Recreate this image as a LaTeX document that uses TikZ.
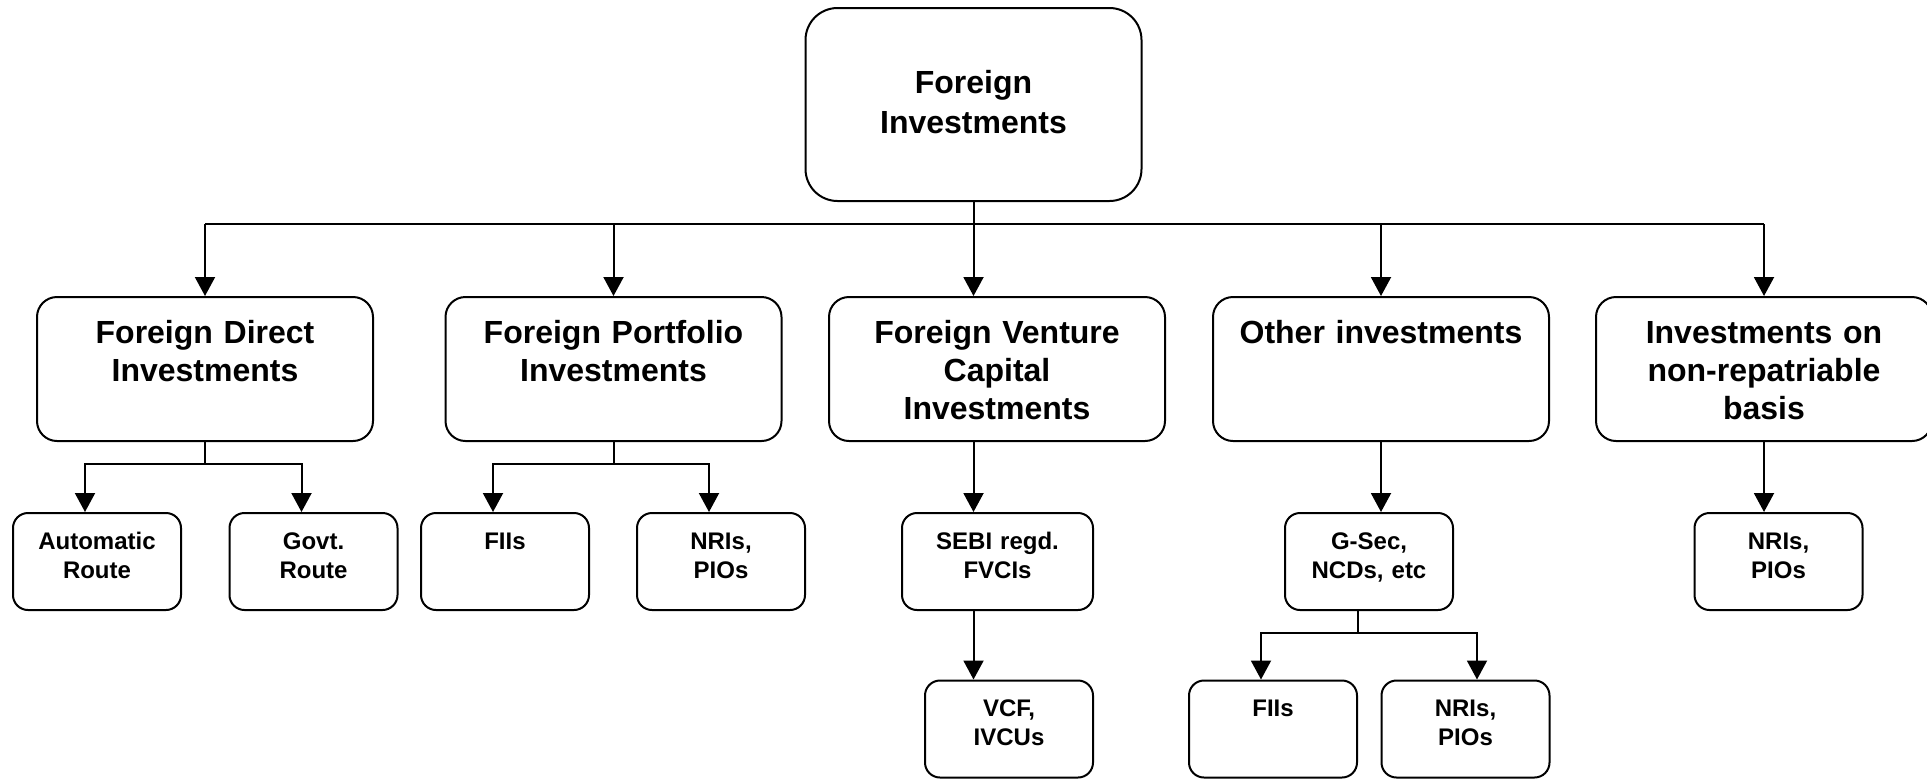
\documentclass[tikz,border=0pt]{standalone}
\usepackage{fontspec}
\setmainfont{Liberation Sans}
\usetikzlibrary{arrows.meta}

\begin{document}
\begin{tikzpicture}[x=0.5pt,y=-0.5pt,>={Triangle[width=10pt,length=9.5pt]},
    box/.style={draw,line width=1pt,align=center,inner sep=0pt},
    topbox/.style={box,rounded corners=16pt,text width=168pt,text height=42.5pt,
      text depth=54pt,font=\fontsize{16}{20}\selectfont\bfseries},
    bigbox/.style={box,rounded corners=10pt,text width=168pt,text height=23pt,
      text depth=49pt,font=\fontsize{16}{19}\selectfont\bfseries},
    smallbox/.style={box,rounded corners=7.5pt,text width=84pt,text height=18pt,
      text depth=30.5pt,font=\fontsize{12}{14.5}\selectfont\bfseries},
    link/.style={line width=1pt}]
    \useasboundingbox (0,0) rectangle (1927,778);

    \node[topbox] (fi) at (973.5,104.5) {Foreign\\Investments};

    \node[bigbox] (fdi) at (205,369) {Foreign Direct\\Investments};
    \node[bigbox] (fpi) at (613.5,369) {Foreign Portfolio\\Investments};
    \node[bigbox] (fvci) at (997,369) {Foreign Venture\\Capital\\Investments};
    \node[bigbox] (oth) at (1381,369) {Other investments};
    \node[bigbox] (nrb) at (1764,369) {Investments on\\non-repatriable\\basis};

    \node[smallbox] (auto) at (97,561.5) {Automatic\\Route};
    \node[smallbox] (govt) at (313.5,561.5) {Govt.\\Route};
    \node[smallbox] (fii1) at (505,561.5) {FIIs};
    \node[smallbox] (nri1) at (721,561.5) {NRIs,\\PIOs};
    \node[smallbox,text width=95.5pt] (sebi) at (997.5,561.5) {SEBI regd.\\FVCIs};
    \node[smallbox] (gsec) at (1369,561.5) {G-Sec,\\NCDs, etc};
    \node[smallbox] (nri3) at (1778.5,561.5) {NRIs,\\PIOs};
    \node[smallbox] (vcf) at (1009,729) {VCF,\\IVCUs};
    \node[smallbox] (fii2) at (1273,729) {FIIs};
    \node[smallbox] (nri2) at (1465.5,729) {NRIs,\\PIOs};

    % top level bus
    \coordinate (bus) at (0,224);
    \draw[link]{(fi.south) -- (fi.south |- bus)};
    \draw[link]{(fdi.north |- bus) -- (nrb.north |- bus)};
    \foreach \n in {fdi,fpi,oth,nrb} \draw[link,->]{(\n.north |- bus) -- (\n.north)};
    \draw[link,->]{(fi.south |- bus) -- (fi.south |- fvci.north)};

    % splits under FDI and FPI
    \coordinate (split) at (0,464);
    \foreach \p/\a/\b in {fdi/auto/govt,fpi/fii1/nri1} {
      \draw[link]{(\p.south) -- (\p.south |- split)};
      \draw[link,->]{(\p.south |- split) -| ([xshift=-6pt]\a.north)};
      \draw[link,->]{(\p.south |- split) -| ([xshift=-6pt]\b.north)};
    }

    \draw[link,->]{(fi.south |- fvci.south) -- (fi.south |- sebi.north)};
    \draw[link,->]{(fi.south |- sebi.south) -- (fi.south |- vcf.north)};

    \draw[link,->]{(oth.south) -- (oth.south |- gsec.north)};
    \coordinate (gsplit) at (0,633);
    \draw[link]{([xshift=-5.5pt]gsec.south) -- ([xshift=-5.5pt]gsec.south |- gsplit)};
    \draw[link,->]{([xshift=-5.5pt]gsec.south |- gsplit) -| ([xshift=-6pt]fii2.north)};
    \draw[link,->]{([xshift=-5.5pt]gsec.south |- gsplit) -| ([xshift=5.75pt]nri2.north)};

    \draw[link,->]{(nrb.south) -- (nrb.south |- nri3.north)};

  \end{tikzpicture}
\end{document}
